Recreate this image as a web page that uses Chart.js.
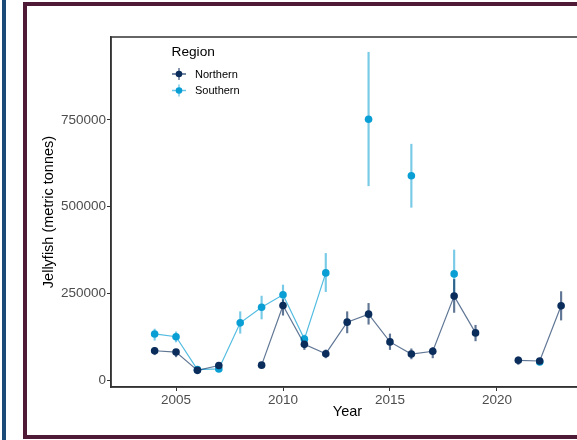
<!DOCTYPE html>
<html>
<head>
<meta charset="utf-8">
<script src="https://cdn.jsdelivr.net/npm/chart.js@4"></script>
<style>
    html, body { margin: 0; padding: 0; background: #fff; overflow: hidden; }
    body { width: 577px; height: 440px; position: relative; }
    #strip { position: absolute; left: 2px; top: 0; width: 4px; height: 440px; background: #1c4a78; }
    #frame { position: absolute; left: 23px; top: 2px; width: 600px; height: 429px; border: 4px solid #4e1a35; }
    #chart { position: absolute; left: 0; top: 0; }
</style>
</head>
<body>
<div id="strip"></div>
<div id="frame"></div>
<canvas id="chart" width="590" height="440"></canvas>
<script>
// ── Data ──────────────────────────────────────────────────────────────────
const years = [2004, 2005, 2006, 2007, 2008, 2009, 2010, 2011, 2012, 2013,
    2014, 2015, 2016, 2017, 2018, 2019, 2020, 2021, 2022, 2023];

const northern = [84500, 80700, 28000, 42000, null, 43000, 215000, 103000, 76000, 167000,
    190000, 110000, 75000, 83000, 242000, 136000, null, 57000, 55000, 214000];
const northernLow = [73000, 67000, 22000, 35000, null, 37000, 187000, 88000, 64000, 136000,
    161000, 88000, 61000, 64000, 195000, 113000, null, 45000, 47000, 173000];
const northernHigh = [94000, 88000, 34000, 50000, null, 50000, 232000, 116000, 87000, 197000,
    221000, 133000, 90000, 94000, 290000, 158000, null, 67000, 62000, 255000];

const southern = [133000, 125000, 30000, 32000, 165000, 210000, 246000, 118000, 309000, null,
    752000, null, 589000, null, 306000, null, null, null, 52000, null];
const southernLow = [115000, 110000, 25000, 27000, 135000, 176000, 219000, 106000, 255000, null,
    560000, null, 498000, null, 238000, null, null, null, 47000, null];
const southernHigh = [147000, 139000, 35000, 37000, 197000, 242000, 274000, 130000, 365000, null,
    945000, null, 680000, null, 375000, null, null, null, 57000, null];

const yTicks = [0, 250000, 500000, 750000];
const xTicks = [2005, 2010, 2015, 2020];

const NAVY = '#0b2d5c';
const BLUE = '#0a9fd4';

function points(vals) {
    return years.map(function (yr, i) {
        return { x: yr, y: vals[i] };
    });
}
function ranges(lo, hi) {
    return years.map(function (yr, i) {
        return lo[i] == null ? { x: yr, y: null } : { x: yr, y: [lo[i], hi[i]] };
    });
}

// ── Plugins: panel border and inside legend ───────────────────────────────
const panelBorder = {
    id: 'panelBorder',
    afterDraw: function (chart) {
        const a = chart.chartArea;
        const ctx = chart.ctx;
        ctx.save();
        ctx.strokeStyle = '#333';
        ctx.lineWidth = 1.5;
        ctx.strokeRect(a.left, a.top, a.right - a.left, a.bottom - a.top);
        ctx.restore();
    },
};

const insideLegend = {
    id: 'insideLegend',
    afterDraw: function (chart) {
        const ctx = chart.ctx;
        const items = [
            { label: 'Northern', color: NAVY, bar: 'rgba(11,45,92,0.75)', y: 74 },
            { label: 'Southern', color: BLUE, bar: 'rgba(10,159,212,0.6)', y: 90.5 },
        ];
        ctx.save();
        ctx.fillStyle = '#000';
        ctx.font = '13.7px "Liberation Sans", Arial, sans-serif';
        ctx.textBaseline = 'middle';
        ctx.fillText('Region', 171.5, 52.5);
        ctx.font = '11px "Liberation Sans", Arial, sans-serif';
        items.forEach(function (it) {
            const cx = 179;
            ctx.strokeStyle = it.bar;
            ctx.lineWidth = 1.3;
            ctx.beginPath();
            ctx.moveTo(cx - 7, it.y);
            ctx.lineTo(cx + 7, it.y);
            ctx.moveTo(cx, it.y - 6);
            ctx.lineTo(cx, it.y + 6);
            ctx.stroke();
            ctx.fillStyle = it.color;
            ctx.beginPath();
            ctx.arc(cx, it.y, 3.3, 0, Math.PI * 2);
            ctx.fill();
            ctx.fillStyle = '#000';
            ctx.fillText(it.label, 195, it.y + 0.5);
        });
        ctx.restore();
    },
};

const tickFont = { family: '"Liberation Sans", Arial, sans-serif', size: 13.5 };
const titleFont = { family: '"Liberation Sans", Arial, sans-serif', size: 14.5 };

new Chart(document.getElementById('chart'), {
    type: 'line',
    data: {
        datasets: [
            {
                label: 'Northern',
                data: points(northern),
                borderColor: 'rgba(11,45,92,0.65)',
                borderWidth: 1.2,
                pointBackgroundColor: NAVY,
                pointBorderWidth: 0,
                pointRadius: 3.8,
                spanGaps: false,
                order: 1,
            },
            {
                label: 'Southern',
                data: points(southern),
                borderColor: 'rgba(10,159,212,0.7)',
                borderWidth: 1.2,
                pointBackgroundColor: BLUE,
                pointBorderWidth: 0,
                pointRadius: 3.8,
                spanGaps: false,
                order: 2,
            },
            {
                type: 'bar',
                label: 'Northern range',
                data: ranges(northernLow, northernHigh),
                backgroundColor: 'rgba(11,45,92,0.65)',
                barThickness: 1.5,
                grouped: false,
                order: 3,
            },
            {
                type: 'bar',
                label: 'Southern range',
                data: ranges(southernLow, southernHigh),
                backgroundColor: 'rgba(10,159,212,0.55)',
                barThickness: 1.5,
                grouped: false,
                order: 4,
            },
        ],
    },
    options: {
        responsive: false,
        animation: false,
        layout: { padding: { top: 37, right: 6, left: 0, bottom: 0 } },
        plugins: {
            legend: { display: false },
            tooltip: { enabled: false },
        },
        scales: {
            x: {
                type: 'linear',
                offset: false,
                min: 2001.96,
                max: 2024.07,
                afterBuildTicks: function (s) {
                    s.ticks = xTicks.map(function (v) { return { value: v }; });
                },
                afterFit: function (s) { s.height = 53; },
                ticks: {
                    font: tickFont,
                    color: '#4d4d4d',
                    padding: 1,
                    maxRotation: 0,
                    callback: function (v) { return String(v); },
                },
                grid: { display: true, offset: false, drawOnChartArea: false, drawTicks: true, tickLength: 4, color: '#333' },
                border: { display: true, color: '#333', width: 1.5 },
                title: {
                    display: true,
                    text: 'Year',
                    color: '#000',
                    font: titleFont,
                    padding: { top: 0, bottom: 19 },
                },
            },
            y: {
                min: -20000,
                max: 989000,
                afterBuildTicks: function (s) {
                    s.ticks = yTicks.map(function (v) { return { value: v }; });
                },
                afterFit: function (s) { s.width = 111; },
                ticks: {
                    font: tickFont,
                    color: '#4d4d4d',
                    padding: 1,
                    callback: function (v) { return String(v); },
                },
                grid: { display: true, drawOnChartArea: false, drawTicks: true, tickLength: 4, color: '#333' },
                border: { display: true, color: '#333', width: 1.5 },
                title: {
                    display: true,
                    text: 'Jellyfish (metric tonnes)',
                    color: '#000',
                    font: titleFont,
                    padding: { top: 40, bottom: 0 },
                },
            },
        },
    },
    plugins: [panelBorder, insideLegend],
});
</script>
</body>
</html>
